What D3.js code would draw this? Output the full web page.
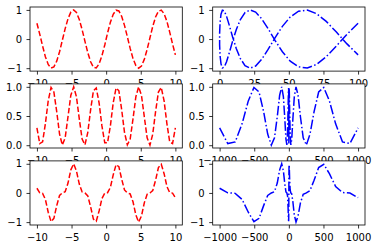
<!DOCTYPE html>
<html>
<head>
<meta charset="utf-8">
<script src="https://cdn.jsdelivr.net/npm/d3@7"></script>
<style>
    body { margin: 0; background: #fff; }
    text { font-family: "DejaVu Sans", sans-serif; }
</style>
</head>
<body>
<div id="chart"></div>
<script>
// sample points
var t = [-10, -9.59, -9.18, -8.78, -8.37, -7.96, -7.55, -7.14, -6.73, -6.33, -5.92, -5.51, -5.10, -4.69, -4.29, -3.88, -3.47, -3.06, -2.65, -2.24, -1.84, -1.43, -1.02, -0.61, -0.20,
         0.20, 0.61, 1.02, 1.43, 1.84, 2.24, 2.65, 3.06, 3.47, 3.88, 4.29, 4.69, 5.10, 5.51, 5.92, 6.33, 6.73, 7.14, 7.55, 7.96, 8.37, 8.78, 9.18, 9.59, 10];

var tSq = [100, 92.00, 84.34, 77.01, 70.01, 63.35, 57.02, 51.02, 45.36, 40.03, 35.03, 30.36, 26.03, 22.03, 18.37, 15.04, 12.04, 9.37, 7.04, 5.04, 3.37, 2.04, 1.04, 0.37, 0.04,
           0.04, 0.37, 1.04, 2.04, 3.37, 5.04, 7.04, 9.37, 12.04, 15.04, 18.37, 22.03, 26.03, 30.36, 35.03, 40.03, 45.36, 51.02, 57.02, 63.35, 70.01, 77.01, 84.34, 92.00, 100];

var tCube = [-1000, -882.5, -774.5, -675.8, -585.8, -504.2, -430.5, -364.4, -305.5, -253.2, -207.3, -167.3, -132.8, -103.4, -78.7, -58.3, -41.8, -28.7, -18.7, -11.3, -6.2, -2.9, -1.1, -0.2, -0.01,
             0.01, 0.2, 1.1, 2.9, 6.2, 11.3, 18.7, 28.7, 41.8, 58.3, 78.7, 103.4, 132.8, 167.3, 207.3, 253.2, 305.5, 364.4, 430.5, 504.2, 585.8, 675.8, 774.5, 882.5, 1000];

var sinVals = [0.544, 0.166, -0.239, -0.605, -0.871, -0.994, -0.954, -0.758, -0.436, -0.043, 0.357, 0.698, 0.925, 1.000, 0.910, 0.671, 0.322, -0.080, -0.469, -0.781, -0.965, -0.990, -0.852, -0.575, -0.203,
               0.203, 0.575, 0.852, 0.990, 0.965, 0.781, 0.469, 0.080, -0.322, -0.671, -0.910, -1.000, -0.925, -0.698, -0.357, 0.043, 0.436, 0.758, 0.954, 0.994, 0.871, 0.605, 0.239, -0.166, -0.544];

var sin2Vals = [0.296, 0.028, 0.057, 0.366, 0.759, 0.989, 0.911, 0.574, 0.190, 0.002, 0.127, 0.488, 0.856, 1.000, 0.829, 0.451, 0.104, 0.006, 0.220, 0.610, 0.931, 0.980, 0.726, 0.330, 0.041,
                0.041, 0.330, 0.726, 0.980, 0.931, 0.610, 0.220, 0.006, 0.104, 0.451, 0.829, 1.000, 0.856, 0.488, 0.127, 0.002, 0.190, 0.574, 0.911, 0.989, 0.759, 0.366, 0.057, 0.028, 0.296];

var sin3Vals = [0.161, 0.005, -0.014, -0.221, -0.661, -0.984, -0.870, -0.435, -0.083, -0.000, 0.045, 0.340, 0.792, 0.999, 0.754, 0.303, 0.033, -0.001, -0.103, -0.477, -0.898, -0.970, -0.619, -0.190, -0.008,
                0.008, 0.190, 0.619, 0.970, 0.898, 0.477, 0.103, 0.001, -0.033, -0.303, -0.754, -0.999, -0.792, -0.340, -0.045, 0.000, 0.083, 0.435, 0.870, 0.984, 0.661, 0.221, 0.014, -0.005, -0.161];

var ticksT = [-10, -5, 0, 5, 10];
var ticksSq = [0, 25, 50, 75, 100];
var ticksCube = [-1000, -500, 0, 500, 1000];
var ticksPm1 = [-1, 0, 1];
var ticksUnit = [0, 0.5, 1];

var W = 378, H = 249;
var colLeft = [30, 212.7], axW = 152.3;
var rowTop = [7, 83.9, 160.9], axH = 64.1;

var panels = [
    { row: 0, col: 0, xs: t, ys: sinVals, xt: ticksT, yt: ticksPm1, fmt: "d", color: "#ff0000", dash: "5.5,2.4" },
    { row: 0, col: 1, xs: tSq, ys: sinVals, xt: ticksSq, yt: ticksPm1, fmt: "d", color: "#0000ff", dash: "9.6,2.4,1.5,2.4" },
    { row: 1, col: 0, xs: t, ys: sin2Vals, xt: ticksT, yt: ticksUnit, fmt: ".1f", color: "#ff0000", dash: "5.5,2.4" },
    { row: 1, col: 1, xs: tCube, ys: sin2Vals, xt: ticksCube, yt: ticksUnit, fmt: ".1f", color: "#0000ff", dash: "9.6,2.4,1.5,2.4" },
    { row: 2, col: 0, xs: t, ys: sin3Vals, xt: ticksT, yt: ticksPm1, fmt: "d", color: "#ff0000", dash: "5.5,2.4" },
    { row: 2, col: 1, xs: tCube, ys: sin3Vals, xt: ticksCube, yt: ticksPm1, fmt: "d", color: "#0000ff", dash: "9.6,2.4,1.5,2.4" }
];

var svg = d3.select("#chart")
    .append("svg")
    .attr("width", W)
    .attr("height", H);

svg.append("rect").attr("width", W).attr("height", H).attr("fill", "#fff");

// matplotlib style padding: 5% of the data span on each side
function padded(arr)
{
    var lo = d3.min(arr), hi = d3.max(arr);
    var p = (hi - lo) * 0.05;
    return [lo - p, hi + p];
}

function minusFmt(spec)
{
    var f = d3.format(spec);
    return function(d) { return f(d).replace("-", "\u2212"); };
}

panels.forEach(function(p, i) {
    var g = svg.append("g")
        .attr("transform", "translate(" + colLeft[p.col] + "," + rowTop[p.row] + ")");

    var x = d3.scaleLinear().domain(padded(p.xs)).range([0, axW]);
    var y = d3.scaleLinear().domain(padded(p.ys)).range([axH, 0]);

    // white axes background covers labels of the panel above
    g.append("rect")
        .attr("width", axW)
        .attr("height", axH)
        .attr("fill", "#fff");

    g.append("clipPath")
        .attr("id", "clip" + i)
        .append("rect")
        .attr("width", axW)
        .attr("height", axH);

    var pts = p.xs.map(function(v, k) { return [v, p.ys[k]]; });

    g.append("path")
        .datum(pts)
        .attr("clip-path", "url(#clip" + i + ")")
        .attr("fill", "none")
        .attr("stroke", p.color)
        .attr("stroke-width", 1.5)
        .attr("stroke-dasharray", p.dash)
        .attr("d", d3.line()
            .x(function(d) { return x(d[0]); })
            .y(function(d) { return y(d[1]); }));

    var xAxis = g.append("g")
        .attr("transform", "translate(0," + axH + ")")
        .call(d3.axisBottom(x).tickValues(p.xt).tickSize(3.5).tickPadding(5.2).tickFormat(minusFmt("d")));

    var yAxis = g.append("g")
        .call(d3.axisLeft(y).tickValues(p.yt).tickSize(3.5).tickPadding(4.5).tickFormat(minusFmt(p.fmt)));

    [xAxis, yAxis].forEach(function(a) {
        a.select(".domain").remove();
        a.selectAll("line").attr("stroke", "#000").attr("stroke-width", 0.8);
        a.selectAll("text")
            .attr("fill", "#000")
            .style("font-size", "10px")
            .style("font-family", "DejaVu Sans");
    });

    // frame
    g.append("rect")
        .attr("width", axW)
        .attr("height", axH)
        .attr("fill", "none")
        .attr("stroke", "#000")
        .attr("stroke-width", 0.8);
});
</script>
</body>
</html>
